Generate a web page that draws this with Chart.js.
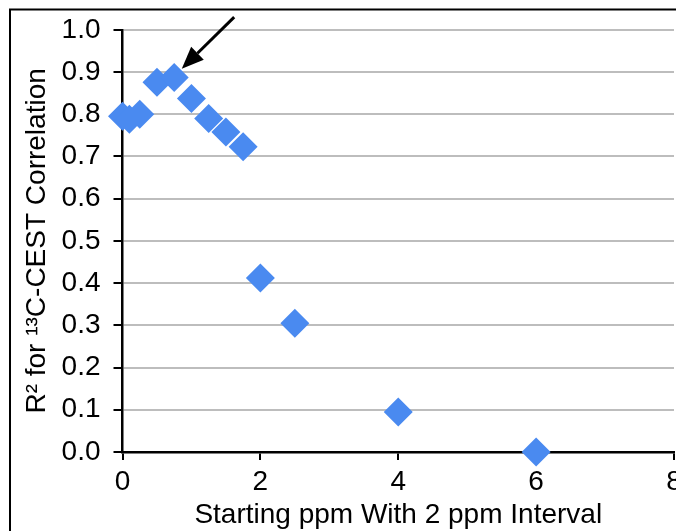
<!DOCTYPE html>
<html>
<head>
<meta charset="utf-8">
<script src="https://cdn.jsdelivr.net/npm/chart.js@4"></script>
<style>
  html, body { margin: 0; padding: 0; background: #fff; overflow: hidden; }
  #wrap { width: 700px; height: 531px; }
</style>
</head>
<body>
<div id="wrap"><canvas id="cestChart" width="700" height="531"></canvas></div>
<script>
// Starting ppm (x) and R^2 values
const startPpm = [0, 0.1, 0.25, 0.5, 0.75, 1, 1.25, 1.5, 1.75, 2, 2.5, 4, 6];
const r2Values = [0.795, 0.788, 0.80, 0.876, 0.887, 0.837, 0.79, 0.758, 0.723, 0.412, 0.305, 0.095, 0.0];

// arrow annotation, in data units: tail (above plot) -> head
const arrowFrom = [1.62, 1.03];
const arrowTo = [0.86, 0.908];

const xTitle = 'Starting ppm With 2 ppm Interval';
const yTitle = 'R\u00B2 for \u00B9\u00B3C-CEST Correlation';

const points = startPpm.map((x, i) => ({ x: x, y: r2Values[i] }));

// black frame at top and left (the figure is cropped on the other sides)
const framePlugin = {
  id: 'frame',
  afterDraw(chart) {
    const ctx = chart.ctx;
    ctx.save();
    ctx.strokeStyle = '#000';
    ctx.lineWidth = 2;
    ctx.beginPath();
    ctx.moveTo(10, 531);
    ctx.lineTo(10, 9.5);
    ctx.lineTo(700, 9.5);
    ctx.stroke();
    ctx.restore();
  }
};

const arrowPlugin = {
  id: 'arrow',
  afterDatasetsDraw(chart) {
    const xs = chart.scales.x, ys = chart.scales.y;
    const x1 = xs.getPixelForValue(arrowFrom[0]), y1 = ys.getPixelForValue(arrowFrom[1]);
    const x2 = xs.getPixelForValue(arrowTo[0]), y2 = ys.getPixelForValue(arrowTo[1]);
    const ang = Math.atan2(y2 - y1, x2 - x1);
    const headLen = 22, headW = 9;
    const bx = x2 - headLen * Math.cos(ang), by = y2 - headLen * Math.sin(ang);
    const ctx = chart.ctx;
    ctx.save();
    ctx.strokeStyle = '#000';
    ctx.fillStyle = '#000';
    ctx.lineWidth = 3;
    ctx.beginPath();
    ctx.moveTo(x1, y1);
    ctx.lineTo(bx, by);
    ctx.stroke();
    ctx.beginPath();
    ctx.moveTo(x2, y2);
    ctx.lineTo(bx + headW * Math.sin(ang), by - headW * Math.cos(ang));
    ctx.lineTo(bx - headW * Math.sin(ang), by + headW * Math.cos(ang));
    ctx.closePath();
    ctx.fill();
    ctx.restore();
  }
};

Chart.defaults.font.family = '"Liberation Sans", Arial, sans-serif';
Chart.defaults.color = '#000';

new Chart(document.getElementById('cestChart').getContext('2d'), {
  type: 'scatter',
  data: {
    datasets: [{
      label: 'R2',
      data: points,
      pointStyle: 'rectRot',
      pointRadius: 14.5,
      pointHoverRadius: 14.5,
      backgroundColor: '#4a8af0',
      borderColor: '#4a8af0',
      borderWidth: 0,
      clip: false
    }]
  },
  options: {
    responsive: false,
    animation: false,
    layout: { padding: { top: 29, right: 26, left: 0, bottom: 0 } },
    plugins: {
      legend: { display: false },
      tooltip: { enabled: false }
    },
    scales: {
      x: {
        type: 'linear',
        min: 0,
        max: 8,
        ticks: { stepSize: 2, font: { size: 28 }, padding: 5, maxRotation: 0 },
        grid: { drawOnChartArea: false, drawTicks: true, tickLength: 8, tickColor: '#000', lineWidth: 2 },
        border: { color: '#000', width: 2.5 },
        title: { display: true, text: xTitle, font: { size: 28 }, padding: { top: 0, bottom: -1 } },
        afterFit(scale) { scale.height = 79; }
      },
      y: {
        type: 'linear',
        min: 0,
        max: 1,
        ticks: { stepSize: 0.1, font: { size: 28 }, padding: 13, callback: v => v.toFixed(1) },
        grid: { color: '#bdbdbd', lineWidth: 2, tickLength: 9, tickColor: '#000', tickWidth: 2 },
        border: { color: '#000', width: 2.5 },
        title: { display: true, text: yTitle, font: { size: 28 }, padding: { top: 20, bottom: 0 } },
        afterFit(scale) { scale.width = 122.5; }
      }
    }
  },
  plugins: [framePlugin, arrowPlugin]
});
</script>
</body>
</html>
